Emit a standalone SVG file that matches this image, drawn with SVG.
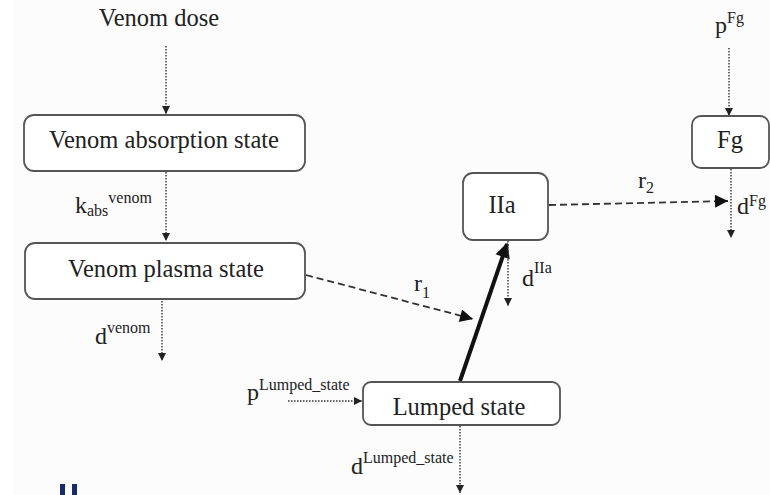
<svg xmlns="http://www.w3.org/2000/svg" width="770" height="495" viewBox="0 0 770 495">
<defs>
<style>
.bg{fill:#fcfcfc}
.box{fill:#fff;stroke:#555;stroke-width:1.8}
text{font-family:'Liberation Serif','DejaVu Serif',serif;fill:#222}
.lbl{font-size:24.5px;text-anchor:middle}
.dot{fill:none;stroke:#333;stroke-width:1.4;stroke-dasharray:1.5 1.5}
.dash{fill:none;stroke:#333;stroke-width:1.8;stroke-dasharray:7 4}
.thick{fill:none;stroke:#111;stroke-width:4}
</style>
<marker id="ah" viewBox="0 0 10 10" refX="10" refY="5" markerWidth="9" markerHeight="8" markerUnits="userSpaceOnUse" orient="auto"><path d="M0,0 L10,5 L0,10 z" fill="#222"/></marker>
<marker id="ahb" viewBox="0 0 10 10" refX="10" refY="5" markerWidth="15" markerHeight="13" markerUnits="userSpaceOnUse" orient="auto"><path d="M0,0 L10,5 L0,10 z" fill="#111"/></marker>
<marker id="ahk" viewBox="0 0 10 10" refX="9" refY="5" markerWidth="18" markerHeight="15" markerUnits="userSpaceOnUse" orient="auto"><path d="M0,0 L10,5 L0,10 z" fill="#111"/></marker>
</defs>
<rect class="bg" x="0" y="0" width="770" height="495"/>
<rect x="0" y="0" width="13" height="495" fill="#fff"/>

<g id="connectors">
<path class="dot" d="M166,46 V114" marker-end="url(#ah)"/>
<path class="dot" d="M166,172 V241" marker-end="url(#ah)"/>
<path class="dot" d="M162,301 V361" marker-end="url(#ah)"/>
<path class="dash" d="M306,275 L473,319" marker-end="url(#ahb)"/>
<path class="thick" d="M460,381 L507,244" marker-end="url(#ahk)"/>
<path class="dot" d="M508,241 V306" marker-end="url(#ah)"/>
<path class="dot" d="M288,401 H362" marker-end="url(#ah)"/>
<path class="dot" d="M460,426 V493" marker-end="url(#ah)"/>
<path class="dot" d="M729,48 V116" marker-end="url(#ah)"/>
<path class="dash" d="M549,205 L728,201" marker-end="url(#ahb)"/>
<path class="dot" d="M731,169 V238" marker-end="url(#ah)"/>
</g>

<g id="venom-dose"><text class="lbl" x="159" y="26">Venom dose</text></g>

<g id="venom-absorption">
<rect class="box" x="24" y="115" width="281" height="56" rx="10"/>
<text class="lbl" x="164" y="148">Venom absorption state</text>
</g>

<g id="kabs"><text x="75" y="213" font-size="24">k<tspan font-size="16" dy="3">abs</tspan><tspan font-size="16" dy="-13">venom</tspan></text></g>

<g id="venom-plasma">
<rect class="box" x="25" y="243" width="280" height="56" rx="10"/>
<text class="lbl" x="166" y="277">Venom plasma state</text>
</g>

<g id="dvenom"><text x="95" y="344" font-size="24">d<tspan font-size="16" dy="-11">venom</tspan></text></g>

<g id="r1"><text x="414" y="291" font-size="24">r<tspan font-size="16" dy="7">1</tspan></text></g>

<g id="iia">
<rect class="box" x="463" y="173" width="85" height="67" rx="10"/>
<text class="lbl" x="502" y="213">IIa</text>
</g>

<g id="diia"><text x="522" y="286" font-size="24">d<tspan font-size="16" dy="-13">IIa</tspan></text></g>

<g id="lumped">
<rect class="box" x="363" y="382" width="197" height="43" rx="8"/>
<text class="lbl" x="459" y="415">Lumped state</text>
</g>

<g id="plumped"><text x="247" y="400" font-size="24">p<tspan font-size="16" dy="-10">Lumped_state</tspan></text></g>

<g id="dlumped"><text x="351" y="474" font-size="24">d<tspan font-size="16" dy="-11">Lumped_state</tspan></text></g>

<g id="fg">
<rect class="box" x="692" y="116" width="77" height="52" rx="9"/>
<text class="lbl" x="730" y="148">Fg</text>
</g>

<g id="pfg"><text x="715" y="33" font-size="24">p<tspan font-size="16" dy="-10">Fg</tspan></text></g>

<g id="r2"><text x="638" y="188" font-size="24">r<tspan font-size="16" dy="5">2</tspan></text></g>

<g id="dfg"><text x="737" y="214" font-size="24">d<tspan font-size="16" dy="-8">Fg</tspan></text></g>

<rect x="60" y="484" width="5" height="11" fill="#1b2a6b"/>
<rect x="72" y="484" width="5" height="11" fill="#1b2a6b"/>
</svg>
